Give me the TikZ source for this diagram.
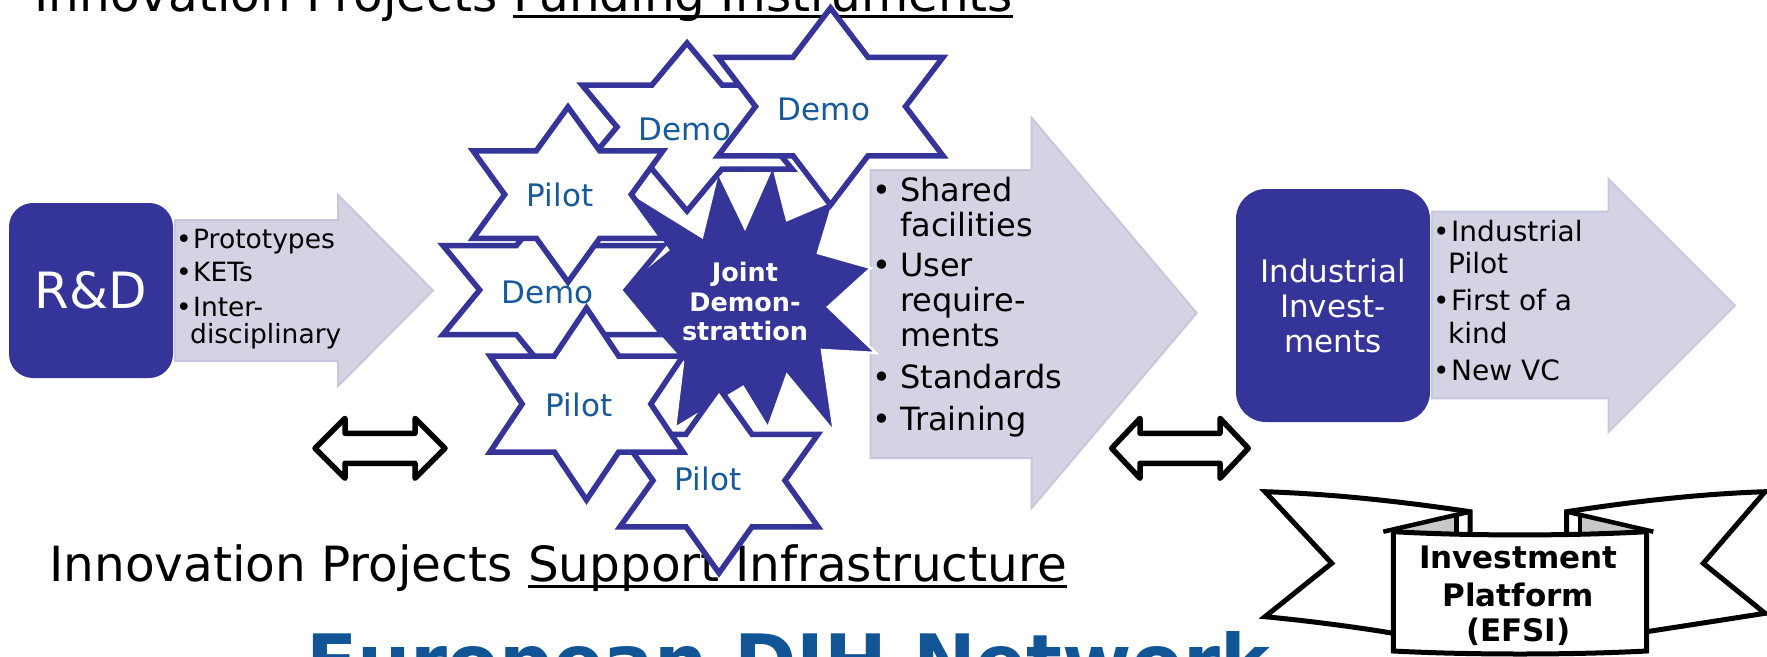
\documentclass[tikz,border=0pt]{standalone}
\usepackage{fontspec}
\setmainfont{DejaVu Sans}
\definecolor{indigo}{RGB}{53,52,153}
\definecolor{arrowgray}{RGB}{211,211,227}
\definecolor{arrowedge}{RGB}{199,199,221}
\definecolor{starblue}{RGB}{22,90,155}
\definecolor{titleblue}{RGB}{17,85,150}
\definecolor{foldgray}{RGB}{200,200,200}
\newcommand{\hexagram}[4]{%
  \draw[starline] ({#1+#3/2},{#2}) -- ({#1+2*#3/3},{#2+#4/4}) -- ({#1+#3},{#2+#4/4}) -- ({#1+5*#3/6},{#2+#4/2}) -- ({#1+#3},{#2+3*#4/4}) -- ({#1+2*#3/3},{#2+3*#4/4}) -- ({#1+#3/2},{#2+#4}) -- ({#1+#3/3},{#2+3*#4/4}) -- ({#1},{#2+3*#4/4}) -- ({#1+#3/6},{#2+#4/2}) -- ({#1},{#2+#4/4}) -- ({#1+#3/3},{#2+#4/4}) -- cycle;}
\newcommand{\myul}[1]{\setbox0=\hbox{#1}\rlap{\rule[-6.3pt]{\wd0}{2.6pt}}\box0}
\newcommand{\bul}[1]{\makebox[#1][l]{•}}
\begin{document}
\begin{tikzpicture}[x=1pt,y=-1pt,
  starline/.style={draw=indigo, fill=white, line width=5.5pt, miter limit=10},
  startext/.style={font=\fontsize{31}{31}\selectfont, text=starblue, anchor=base, inner sep=0pt},
  graybody/.style={fill=arrowgray, draw=arrowedge, line width=2pt},
  dblarrow/.style={draw=black, fill=white, line width=5.5pt, line join=round},
  box/.style={fill=indigo, text=white, rounded corners=#1, inner sep=0pt},
  l1/.style={font=\fontsize{26.5}{26.5}\selectfont, anchor=base west, inner sep=0pt},
  l2/.style={font=\fontsize{32}{32}\selectfont, anchor=base west, inner sep=0pt},
  l3/.style={font=\fontsize{28}{28}\selectfont, anchor=base west, inner sep=0pt},
  jt/.style={font=\bfseries\fontsize{25.5}{25.5}\selectfont, text=white, anchor=base, inner sep=0pt},
  bt/.style={font=\bfseries\fontsize{31}{31}\selectfont, text=black, anchor=base, inner sep=0pt},
  title/.style={font=\fontsize{48.5}{48.5}\selectfont, anchor=base west, inner sep=0pt},
  banner/.style={draw=black, fill=white, line width=5pt, line join=miter}]
\useasboundingbox (0,0) rectangle (1767,656);
\fill[white] (0,0) rectangle (1767,656);

% titles
\node[title] (tfund) at (34,11.5) {Innovation Projects \myul{Funding Instruments}};
\node[title] (tsupp) at (49,581.7) {Innovation Projects \myul{Support Infrastructure}};
\node[anchor=base west, inner sep=0pt, font=\bfseries\fontsize{75}{75}\selectfont, text=titleblue] (eu) at (306,688.7) {European DIH Network};

% R&D box and arrow
\node[box=24pt, minimum width=164pt, minimum height=175pt, font=\fontsize{50}{50}\selectfont] (rd) at (91,290.5) {R\&D};
\draw[graybody] (175,220) -- (338,220) -- (338,195) -- (433,290.5) -- (338,386) -- (338,361) -- (175,361) -- cycle;
\node[l1] (a1p) at (176,248.3) {\bul{17pt}Prototypes};
\node[l1] (a1k) at (176,281.7) {\bul{17pt}KETs};
\node[l1] (a1i) at (176,316.7) {\bul{17pt}Inter-};
\node[l1] (a1d) at (190,343.3) {disciplinary};

% middle arrow
\draw[graybody] (870.7,170) -- (1031.7,170) -- (1031.7,118) -- (1196.7,313) -- (1031.7,508) -- (1031.7,458) -- (870.7,458) -- cycle;

% joint demonstration burst
\draw[fill=indigo, draw=white, line width=2.5pt, line join=miter]
  (626,190) -- (702,237) -- (718,172) -- (745,228) -- (773,165) -- (787,220) -- (834,200) -- (818,253) -- (871,268) -- (828,307) -- (876,353) -- (822,350) -- (834,432) -- (787,375) -- (768,428) -- (743,387) -- (675,428) -- (683,362) -- (619,290) -- (668,250) -- cycle;

\node[l2] (a2s) at (872,201.7) {\bul{28pt}Shared};
\node[l2] (a2f) at (900,236.7) {facilities};
\node[l2] (a2u) at (872,276.7) {\bul{28pt}User};
\node[l2] (a2r) at (900,311.7) {require-};
\node[l2] (a2m) at (900,346.7) {ments};
\node[l2] (a2st) at (872,388.3) {\bul{28pt}Standards};
\node[l2] (a2t) at (872,430) {\bul{28pt}Training};

% stars
\hexagram{582}{43}{210}{168}
\node[startext] (demoA) at (685,140) {Demo};
\hexagram{718}{8}{225}{197}
\node[startext] (demoB) at (824,120) {Demo};
\hexagram{443}{201}{220}{178}
\node[startext] (demoD) at (547.5,303.3) {Demo};
\hexagram{473}{107}{190}{175}
\node[startext] (pilotC) at (560,206.7) {Pilot};
\hexagram{620}{388}{198}{185}
\node[startext] (pilotF) at (708,490) {Pilot};
\hexagram{490}{308}{193}{192}
\node[startext] (pilotE) at (579,416.7) {Pilot};

\node[jt] (j1) at (745,281.7) {Joint};
\node[jt] (j2) at (745,311.7) {Demon-};
\node[jt] (j3) at (745,340) {strattion};

% double arrows
\draw[dblarrow] (315,448.3) -- (345,418.3) -- (345,433.3) -- (415,433.3) -- (415,418.3) -- (445,448.3) -- (415,478.3) -- (415,463.3) -- (345,463.3) -- (345,478.3) -- cycle;
\draw[dblarrow] (1111.7,448.3) -- (1140,418.3) -- (1140,433.3) -- (1220,433.3) -- (1220,418.3) -- (1248.3,448.3) -- (1220,478.3) -- (1220,463.3) -- (1140,463.3) -- (1140,478.3) -- cycle;

% industrial box and arrow
\node[box=30pt, minimum width=194pt, minimum height=233pt, align=center, font=\fontsize{31}{35}\selectfont] (ind) at (1333,305.5) {Industrial\\Invest-\\ments};
\draw[graybody] (1432,211.7) -- (1608.7,211.7) -- (1608.7,179.3) -- (1735,305.5) -- (1608.7,431.7) -- (1608.7,398.3) -- (1432,398.3) -- cycle;
\node[l3] (a3i) at (1433,241.7) {\bul{18pt}Industrial};
\node[l3] (a3p) at (1448,273.3) {Pilot};
\node[l3] (a3f) at (1433,310) {\bul{18pt}First of a};
\node[l3] (a3k) at (1448,343.3) {kind};
\node[l3] (a3n) at (1433,380) {\bul{18pt}New VC};

% banner
\draw[banner] (1265,491.7) .. controls (1335,494) and (1405,502) .. (1470,511.7) -- (1470,580) -- (1393.3,633.3) .. controls (1350,626) and (1300,620) .. (1265,616.7) -- (1331.7,563.3) -- cycle;
\draw[banner] (1765,491.7) .. controls (1697,494) and (1630,502) .. (1566.7,511.7) -- (1566.7,580) -- (1646.7,631.7) .. controls (1690,625) and (1735,618) .. (1765,613.3) -- (1703.3,563.3) -- cycle;
\fill[foldgray] (1383.3,531.7) -- (1456.7,514.5) -- (1456.7,531.7) -- cycle;
\fill[foldgray] (1653.3,531.7) -- (1580,514.5) -- (1580,531.7) -- cycle;
\draw[black, line width=4.5pt] (1383.3,531.7) -- (1470,511.7);
\draw[black, line width=4.5pt] (1456.7,514.5) -- (1456.7,531.7);
\draw[black, line width=4.5pt] (1653.3,531.7) -- (1566.7,511.7);
\draw[black, line width=4.5pt] (1580,514.5) -- (1580,531.7);
\draw[banner] (1393.3,531.7) .. controls (1470,536) and (1570,536) .. (1646.7,531.7) -- (1646.7,651) .. controls (1570,655) and (1470,655) .. (1393.3,651) -- cycle;
\node[bt] (inv1) at (1518.3,568.3) {Investment};
\node[bt] (inv2) at (1518.3,606.7) {Platform};
\node[bt] (inv3) at (1518.3,641.7) {(EFSI)};
\end{tikzpicture}
\end{document}
